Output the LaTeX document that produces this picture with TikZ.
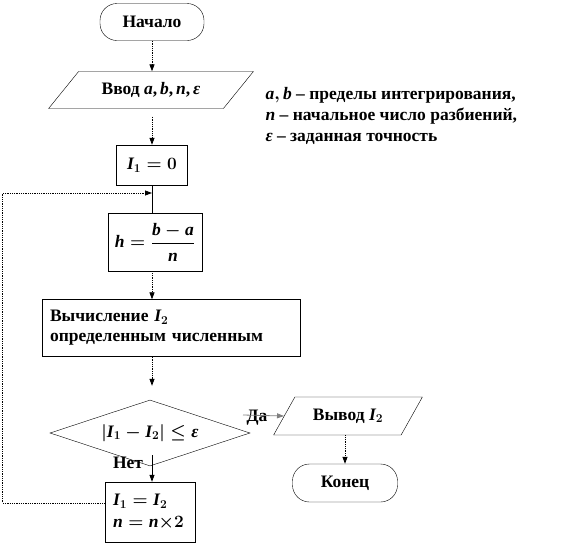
\documentclass[tikz,border=0pt]{standalone}
\usepackage{amsmath}
\usepackage{fontspec}
\setmainfont{Liberation Serif}
\usetikzlibrary{shapes.geometric,arrows.meta}
\newcommand{\mv}[1]{\textit{#1}}

\begin{document}
\begin{tikzpicture}[x=1pt,y=-1pt,
        every node/.style={font=\bfseries\boldmath\fontsize{17.5}{20}\selectfont},
        term/.style={draw, rounded corners=17pt, minimum height=37pt},
        io/.style={draw, trapezium, trapezium stretches=true, minimum height=37pt},
        proc/.style={draw, rectangle},
        cond/.style={draw, diamond, aspect=3.2, minimum width=200pt, minimum height=66pt, inner sep=0pt},
        link/.style={line width=0.8pt, dash pattern=on 1pt off 0.8pt, -{Triangle[length=7pt,width=5pt]}},
        solid link/.style={line width=0.8pt, -{Triangle[length=7pt,width=5pt]}}]
        \useasboundingbox (0,0) rectangle (568,544);

        % main column
        \node[term, minimum width=104pt] (start) at (152,22) {Начало};
        \node[io, trapezium left angle=45, trapezium right angle=135,
              minimum width=205pt] (input) at (151,90)
              {Ввод \mv{a},\,\mv{b},\,\mv{n},\,\mv{ε}};
        \node[proc, minimum width=71pt, minimum height=40pt] (init) at (152,165) {$\mv{I}_1 = 0$};
        \node[proc, minimum width=94pt, minimum height=58pt] (step h) at (155,242)
              {$\mv{h} = \dfrac{\mv{b} - \mv{a}}{\mv{n}}$};
        \node[proc, text width=242pt, inner xsep=8pt, minimum height=57pt, align=left]
              (calc) at (171,328) {Вычисление $\mv{I}_2$\\определенным численным};
        \node[cond] (check) at (150,433) {$\left|\mv{I}_1 - \mv{I}_2\right| \leq \mv{ε}$};
        \node[proc, text width=74pt, inner xsep=8pt, minimum height=60pt, align=left]
              (update) at (150,512) {$\mv{I}_1 = \mv{I}_2$\\[2pt]$\mv{n} = \mv{n}{\times}2$};

        % right column
        \node[io, trapezium left angle=54, trapezium right angle=126,
              minimum width=149pt, minimum height=38pt] (output) at (348,416) {Вывод $\mv{I}_2$};
        \node[term, minimum width=105pt, minimum height=38pt] (stop) at (345,483) {Конец};

        % notes
        \node[anchor=north west, align=left] (note) at (262,84)
              {$\mv{a},\mv{b}$ -- пределы интегрирования,\\[1pt]
               $\mv{n}$ -- начальное число разбиений,\\[1pt]
               $\mv{ε}$ -- заданная точность};

        % labels
        \node (yes) at (257,418) {Да};
        \node (no) at (128,463) {Нет};
        \coordinate (join) at (152,193);
        \coordinate (yes start) at (243,415);

        % connectors
        \draw[link] (start) -- (start |- input.north);
        \draw[link] ([yshift=-8pt]input.south -| start) -- (init);
        \draw[line width=0.8pt] (init) -- (init |- step h.north);
        \draw[link] (step h.south -| init) -- (calc.north -| init);
        \draw[link] (calc.south -| init) -- ([yshift=14pt]check.north -| init);
        \draw[solid link, gray] (yes start) -- (output.west);
        \draw[link] (output.south -| stop) -- (stop);
        \draw[solid link] ([yshift=11pt]check.south -| init) -- (update.north -| init);
        \draw[link] ([yshift=9pt]update.west) -- ++(-102,0) |- (join);
\end{tikzpicture}
\end{document}
